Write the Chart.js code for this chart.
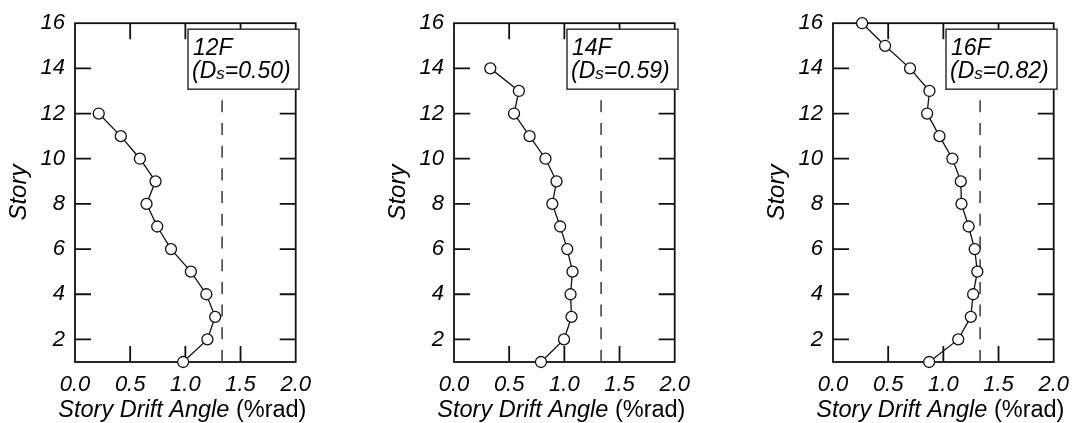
<!DOCTYPE html>
<html><head><meta charset="utf-8">
<script src="https://cdn.jsdelivr.net/npm/chart.js@4/dist/chart.umd.min.js"></script>
<style>
html,body{margin:0;padding:0;background:#fff;width:1079px;height:423px;overflow:hidden;position:relative}
canvas{position:absolute;top:0}
</style></head><body>
<canvas id="c1" width="321" height="423" style="left:0px"></canvas>
<canvas id="c2" width="321" height="423" style="left:379px"></canvas>
<canvas id="c3" width="321" height="423" style="left:758px"></canvas>
<script>
// ---- data ----
const storyTicks = [2, 4, 6, 8, 10, 12, 14, 16];
const driftTicks = [0.0, 0.5, 1.0, 1.5, 2.0];
const stories12 = [1, 2, 3, 4, 5, 6, 7, 8, 9, 10, 11, 12];
const drift12 = [0.98, 1.20, 1.27, 1.19, 1.05, 0.87, 0.745, 0.648, 0.73, 0.588, 0.415, 0.215];
const stories14 = [1, 2, 3, 4, 5, 6, 7, 8, 9, 10, 11, 12, 13, 14];
const drift14 = [0.788, 0.997, 1.065, 1.056, 1.074, 1.026, 0.962, 0.891, 0.929, 0.829, 0.685, 0.544, 0.588, 0.329];
const stories16 = [1, 2, 3, 4, 5, 6, 7, 8, 9, 10, 11, 12, 13, 14, 15, 16];
const drift16 = [0.871, 1.135, 1.249, 1.27, 1.308, 1.284, 1.229, 1.164, 1.158, 1.082, 0.965, 0.853, 0.874, 0.698, 0.472, 0.264];
const limitDrift = 1.333;
const limitStories = [1, 12.6];
const panelNames = ['12F', '14F', '16F'];
const panelDs = ['0.50', '0.59', '0.82'];
const xTitleItalic = 'Story Drift Angle';
const xTitleNormal = ' (%rad)';
const yTitle = 'Story';

const FONT = '"Liberation Sans", Arial, sans-serif';
const INK = '#000';

const framePlugin = {
  id: 'frame',
  beforeDatasetsDraw(chart) {
    const ctx = chart.ctx;
    const {left, right, top, bottom} = chart.chartArea;
    const xs = chart.scales.x, ys = chart.scales.y;
    ctx.save();
    ctx.strokeStyle = '#111';
    ctx.lineWidth = 1.8;
    ctx.strokeRect(left, top, right - left, bottom - top);
    ctx.beginPath();
    driftTicks.forEach(v => {
      if (v <= xs.min || v >= xs.max) return;
      const px = xs.getPixelForValue(v);
      ctx.moveTo(px, bottom); ctx.lineTo(px, bottom - 16);
      ctx.moveTo(px, top); ctx.lineTo(px, top + 16);
    });
    storyTicks.forEach(v => {
      if (v <= ys.min || v >= ys.max) return;
      const py = ys.getPixelForValue(v);
      ctx.moveTo(left, py); ctx.lineTo(left + 16, py);
      ctx.moveTo(right, py); ctx.lineTo(right - 16, py);
    });
    ctx.stroke();
    ctx.restore();
  },
  afterDatasetsDraw(chart, args, opts) {
    const ctx = chart.ctx;
    const {left, right, top} = chart.chartArea;
    ctx.save();
    // annotation box
    const bx = left + 113, by = top + 6, bw = 111, bh = 60;
    ctx.fillStyle = '#fff';
    ctx.fillRect(bx, by, bw, bh);
    ctx.strokeStyle = '#333';
    ctx.lineWidth = 1.5;
    ctx.strokeRect(bx, by, bw, bh);
    ctx.fillStyle = INK;
    ctx.textBaseline = 'alphabetic';
    ctx.textAlign = 'left';
    ctx.font = 'italic 23px ' + FONT;
    ctx.fillText(opts.name, bx + 5, by + 25.5);
    let x = bx + 4;
    const b2 = by + 49;
    ctx.fillText('(D', x, b2); x += ctx.measureText('(D').width;
    ctx.font = 'italic 17px ' + FONT;
    ctx.fillText('s', x, b2 + 1); x += ctx.measureText('s').width;
    ctx.font = 'italic 23px ' + FONT;
    ctx.fillText('=' + opts.ds + ')', x, b2);
    // x title (mixed style)
    const fs = 23.5;
    ctx.font = 'italic ' + fs + 'px ' + FONT;
    const w1 = ctx.measureText(xTitleItalic).width;
    ctx.font = fs + 'px ' + FONT;
    const w2 = ctx.measureText(xTitleNormal).width;
    let tx = (left + right) / 2 - 3 - (w1 + w2) / 2;
    ctx.font = 'italic ' + fs + 'px ' + FONT;
    ctx.fillText(xTitleItalic, tx, 417);
    ctx.font = fs + 'px ' + FONT;
    ctx.fillText(xTitleNormal, tx + w1, 417);
    ctx.restore();
  }
};

function makeChart(id, stories, drift, name, ds) {
  const pts = stories.map((s, i) => ({x: drift[i], y: s}));
  const limit = limitStories.map(s => ({x: limitDrift, y: s}));
  return new Chart(document.getElementById(id), {
    type: 'scatter',
    data: {
      datasets: [
        {
          data: pts, showLine: true, order: 1, clip: false,
          borderColor: '#111', borderWidth: 1.3,
          pointRadius: 5.5, pointBorderWidth: 1.3,
          pointBackgroundColor: '#fff', pointBorderColor: '#111'
        },
        {
          data: limit, showLine: true, order: 2,
          borderColor: '#444', borderWidth: 1.6, borderDash: [12, 10.7],
          pointRadius: 0
        }
      ]
    },
    options: {
      responsive: false, animation: false, devicePixelRatio: 1,
      layout: {padding: {top: 22, right: 19, left: 0, bottom: 0}},
      plugins: {legend: {display: false}, tooltip: {enabled: false},
        frame: {name: name, ds: ds}},
      scales: {
        x: {
          type: 'linear', min: 0, max: 2,
          afterBuildTicks: s => { s.ticks = driftTicks.map(v => ({value: v})); },
          afterFit: s => { s.height = 61; },
          grid: {display: false, drawTicks: false}, border: {display: false},
          ticks: {color: INK, font: {family: FONT, size: 22, style: 'italic'},
            padding: 10, maxRotation: 0, autoSkip: false,
            callback: v => Number(v).toFixed(1)}
        },
        y: {
          type: 'linear', min: 1, max: 16,
          afterBuildTicks: s => { s.ticks = storyTicks.map(v => ({value: v})); },
          afterFit: s => { s.width = 75; },
          grid: {display: false, drawTicks: false}, border: {display: false},
          ticks: {color: INK, font: {family: FONT, size: 22, style: 'italic'},
            padding: 10, autoSkip: false, callback: v => String(v)},
          title: {display: true, text: yTitle, color: INK,
            font: {family: FONT, size: 24, style: 'italic'}, padding: {top: 5, bottom: 0}}
        }
      }
    },
    plugins: [framePlugin]
  });
}

makeChart('c1', stories12, drift12, panelNames[0], panelDs[0]);
makeChart('c2', stories14, drift14, panelNames[1], panelDs[1]);
makeChart('c3', stories16, drift16, panelNames[2], panelDs[2]);
</script>
</body></html>
